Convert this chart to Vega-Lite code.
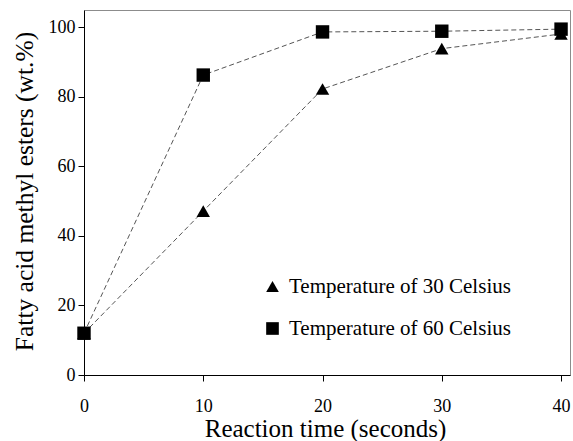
{
  "$schema": "https://vega.github.io/schema/vega-lite/v6.json",
  "autosize": {"type": "none"},
  "padding": {"left": 84, "top": 10, "right": 3, "bottom": 66},
  "width": 486,
  "height": 365,
  "config": {
    "view": {"stroke": "#8c8c8c", "strokeWidth": 1},
    "font": "Liberation Serif"
  },
  "data": {
    "values": [
      {"time": 0, "fame": 12, "series": "Temperature of 30 Celsius"},
      {"time": 10, "fame": 47.1, "series": "Temperature of 30 Celsius"},
      {"time": 20, "fame": 82.2, "series": "Temperature of 30 Celsius"},
      {"time": 30, "fame": 93.8, "series": "Temperature of 30 Celsius"},
      {"time": 40, "fame": 98, "series": "Temperature of 30 Celsius"},
      {"time": 0, "fame": 12, "series": "Temperature of 60 Celsius"},
      {"time": 10, "fame": 86.2, "series": "Temperature of 60 Celsius"},
      {"time": 20, "fame": 98.6, "series": "Temperature of 60 Celsius"},
      {"time": 30, "fame": 98.8, "series": "Temperature of 60 Celsius"},
      {"time": 40, "fame": 99.4, "series": "Temperature of 60 Celsius"}
    ]
  },
  "encoding": {
    "x": {
      "field": "time", "type": "quantitative",
      "scale": {"domain": [0, 40.75], "nice": false, "zero": false},
      "axis": {
        "values": [0, 10, 20, 30, 40], "grid": false,
        "title": "Reaction time (seconds)",
        "titleFont": "Liberation Serif", "titleFontSize": 25, "titleFontWeight": "normal",
        "titleColor": "#000", "titleBaseline": "alphabetic", "titleY": 61, "titleX": 241,
        "labelFont": "Liberation Serif", "labelFontSize": 18, "labelColor": "#000",
        "labelPadding": 16, "tickSize": 6, "tickColor": "#000", "domainColor": "#000",
        "labelFlush": false
      }
    },
    "y": {
      "field": "fame", "type": "quantitative",
      "scale": {"domain": [0, 104.9], "nice": false},
      "axis": {
        "values": [0, 20, 40, 60, 80, 100], "grid": false,
        "title": "Fatty acid methyl esters (wt.%)",
        "titleFont": "Liberation Serif", "titleFontSize": 25.5, "titleFontWeight": "normal",
        "titleColor": "#000", "titleBaseline": "alphabetic", "titleX": -52, "titleY": 181,
        "labelFont": "Liberation Serif", "labelFontSize": 18, "labelColor": "#000",
        "labelPadding": 3, "tickSize": 6, "tickColor": "#000", "domainColor": "#000",
        "labelFlush": false
      }
    }
  },
  "layer": [
    {
      "mark": {"type": "line", "color": "#555555", "strokeWidth": 1, "strokeDash": [5, 3]},
      "encoding": {"detail": {"field": "series"}}
    },
    {
      "mark": {"type": "point", "filled": true, "color": "#000", "size": 180, "opacity": 1},
      "encoding": {
        "shape": {
          "field": "series", "type": "nominal",
          "scale": {"domain": ["Temperature of 30 Celsius", "Temperature of 60 Celsius"], "range": ["triangle-up", "square"]},
          "legend": {
            "title": null, "orient": "none", "legendX": 178, "legendY": 266,
            "labelFont": "Liberation Serif", "labelFontSize": 21, "labelColor": "#000",
            "labelLimit": 400,
            "symbolFillColor": "#000", "symbolStrokeColor": "#000", "symbolSize": 160,
            "symbolOpacity": 1, "rowPadding": 20, "labelOffset": 6
          }
        }
      }
    }
  ]
}
